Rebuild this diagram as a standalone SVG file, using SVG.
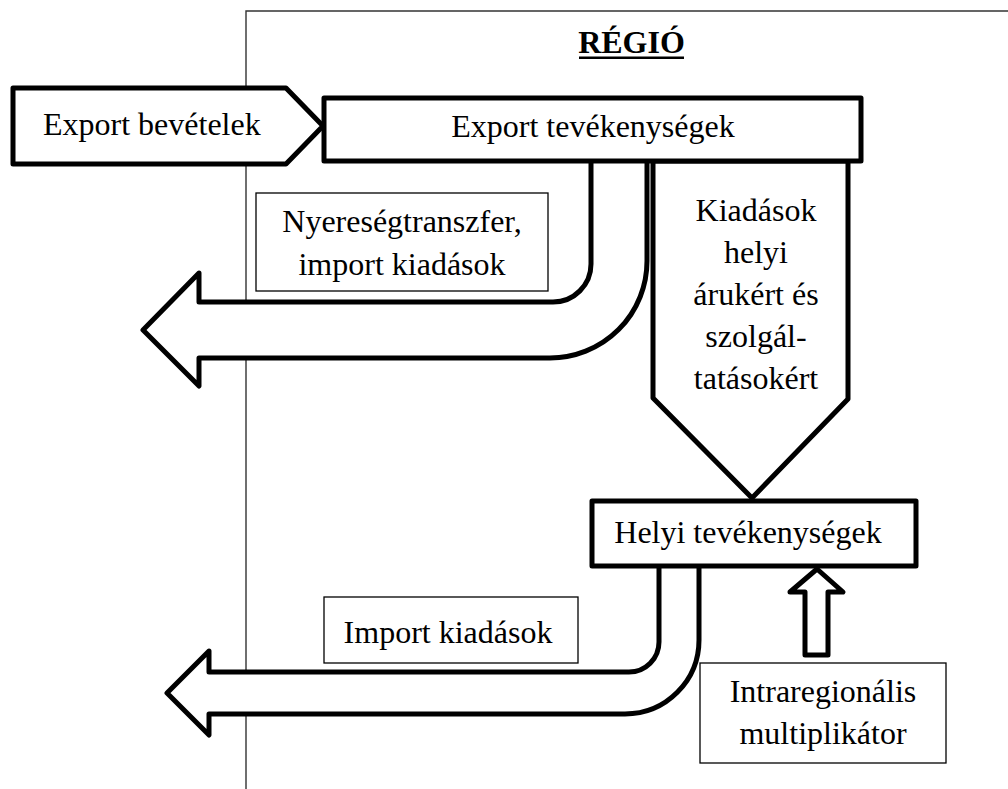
<svg xmlns="http://www.w3.org/2000/svg" width="1008" height="789" viewBox="0 0 1008 789">
<style>
.t{font-family:"Liberation Serif","Times New Roman",serif;font-size:32px;fill:#000}
.c{text-anchor:middle}
.thick{fill:#fff;stroke:#000;stroke-width:5;stroke-linejoin:round}
.thin{fill:#fff;stroke:#000;stroke-width:1.3}
.frame{fill:none;stroke:#333;stroke-width:1.4}
</style>
<rect width="1008" height="789" fill="#fff"/>
<g id="region">
<path class="frame" d="M246,789 V11 H1008"/>
<text class="t c" x="631.5" y="53" font-weight="bold">RÉGIÓ</text>
<rect x="579" y="56.5" width="105" height="2.5" fill="#000"/>
</g>
<g id="connectors">
<path id="flow-nyereseg" class="thick" d="M591,161 V264 A38,38 0 0 1 553,302 H199 V273 L143,330 L199,386 V358 H550 A97,97 0 0 0 647,261 V161"/>
<path id="flow-import" class="thick" d="M659,566 V642 A30,30 0 0 1 629,672 H209 V651 L167,693 L209,735 V714 H625 A74,74 0 0 0 699,640 V566"/>
<path id="flow-kiadasok" class="thick" d="M653,161 H848 V399 L752,498 L653,398 Z"/>
<path id="flow-multiplikator" class="thick" d="M805,655 V592 H790 L817,569 L843,592 H828 V655 Z"/>
</g>
<g id="export-bevetelek">
<path class="thick" d="M13,88 H286 L323,126 L286,164 H13 Z"/>
<text class="t" x="43" y="135">Export bevételek</text>
</g>
<g id="export-tevekenysegek">
<rect class="thick" x="324" y="98" width="537" height="63"/>
<text class="t c" x="593" y="137">Export tevékenységek</text>
</g>
<g id="kiadasok-label">
<text class="t c" x="756" y="221">Kiadások</text>
<text class="t c" x="756" y="263">helyi</text>
<text class="t c" x="756" y="305">árukért és</text>
<text class="t c" x="756" y="347">szolgál-</text>
<text class="t c" x="756" y="389">tatásokért</text>
</g>
<g id="nyereseg-label">
<rect class="thin" x="256" y="193" width="292" height="98"/>
<text class="t c" x="402" y="232">Nyereségtranszfer,</text>
<text class="t c" x="402" y="275">import kiadások</text>
</g>
<g id="helyi-tevekenysegek">
<rect class="thick" x="592" y="501" width="324" height="65"/>
<text class="t c" x="748" y="543">Helyi tevékenységek</text>
</g>
<g id="import-label">
<rect class="thin" x="324" y="597" width="254" height="66"/>
<text class="t c" x="448" y="643">Import kiadások</text>
</g>
<g id="intraregionalis">
<rect class="thin" x="700" y="663" width="246" height="100"/>
<text class="t c" x="823" y="702">Intraregionális</text>
<text class="t c" x="823" y="744">multiplikátor</text>
</g>
</svg>
